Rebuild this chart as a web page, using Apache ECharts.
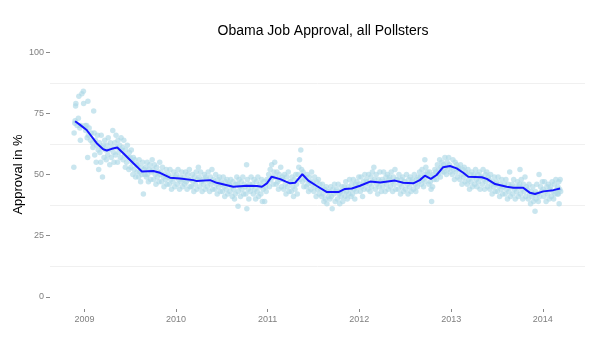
<!DOCTYPE html>
<html>
<head>
<meta charset="utf-8">
<script src="https://cdn.jsdelivr.net/npm/echarts@6/dist/echarts.min.js"></script>
<style>
html,body{margin:0;padding:0;background:#fff;}
#chart{width:604px;height:342px;}
</style>
</head>
<body>
<div id="chart"></div>
<script>
// Tick labels
var yTicks = [0, 25, 50, 75, 100];
var yMinorGrid = [12.5, 37.5, 62.5, 87.5];
var xTickDates = ['2009-01-01', '2010-01-01', '2011-01-01', '2012-01-01', '2013-01-01', '2014-01-01'];
var xRange = ['2008-08-17', '2014-06-18'];

// Individual poll results [date, approval %]
var polls = [
['2008-11-20',53],['2008-11-21',67],['2008-11-24',71],['2008-11-25',72],['2008-11-27',78],['2008-11-28',79],
['2008-12-03',70],['2008-12-08',73],['2008-12-10',82],['2008-12-14',69],['2008-12-16',64],['2008-12-18',70],['2008-12-22',83],['2008-12-28',84],['2008-12-29',79],
['2009-01-04',70],['2009-01-06',68],['2009-01-10',70],['2009-01-12',65],['2009-01-14',57],['2009-01-15',80],['2009-01-17',66],['2009-01-20',69],['2009-01-25',64],['2009-01-28',67],
['2009-02-02',63],['2009-02-04',61],['2009-02-07',76],['2009-02-09',67],['2009-02-11',58],['2009-02-14',64],['2009-02-17',55],['2009-02-19',62],['2009-02-22',66],['2009-02-25',60],['2009-02-27',52],
['2009-03-02',63],['2009-03-04',59],['2009-03-07',55],['2009-03-09',66],['2009-03-12',61],['2009-03-14',49],['2009-03-17',62],['2009-03-20',57],['2009-03-23',64],['2009-03-26',60],['2009-03-29',56],
['2009-04-01',62],['2009-04-04',58],['2009-04-06',65],['2009-04-09',60],['2009-04-12',54],['2009-04-15',63],['2009-04-18',57],['2009-04-21',61],['2009-04-24',68],['2009-04-27',59],['2009-04-29',55],
['2009-05-02',63],['2009-05-05',58],['2009-05-07',66],['2009-05-10',61],['2009-05-13',55],['2009-05-15',64],['2009-05-18',59],['2009-05-21',62],['2009-05-24',57],['2009-05-27',65],['2009-05-30',60],
['2009-06-02',61],['2009-06-04',56],['2009-06-07',64],['2009-06-10',58],['2009-06-13',53],['2009-06-15',60],['2009-06-18',55],['2009-06-21',62],['2009-06-24',57],['2009-06-27',52],['2009-06-29',59],
['2009-07-02',57],['2009-07-05',53],['2009-07-07',60],['2009-07-10',55],['2009-07-13',50],['2009-07-15',57],['2009-07-18',52],['2009-07-21',56],['2009-07-24',49],['2009-07-27',54],['2009-07-30',51],
['2009-08-02',54],['2009-08-05',49],['2009-08-07',56],['2009-08-10',51],['2009-08-13',47],['2009-08-15',53],['2009-08-18',50],['2009-08-21',55],['2009-08-24',42],['2009-08-27',52],['2009-08-30',50],
['2009-09-02',53],['2009-09-05',49],['2009-09-08',55],['2009-09-10',50],['2009-09-13',47],['2009-09-16',52],['2009-09-19',54],['2009-09-22',48],['2009-09-25',51],['2009-09-28',56],
['2009-10-01',52],['2009-10-04',48],['2009-10-07',54],['2009-10-10',50],['2009-10-13',46],['2009-10-16',53],['2009-10-19',49],['2009-10-22',51],['2009-10-25',47],['2009-10-28',55],['2009-10-31',50],
['2009-11-02',51],['2009-11-05',47],['2009-11-08',53],['2009-11-11',49],['2009-11-14',45],['2009-11-17',50],['2009-11-20',48],['2009-11-23',52],['2009-11-26',46],['2009-11-29',49],
['2009-12-02',50],['2009-12-05',46],['2009-12-08',52],['2009-12-11',48],['2009-12-14',44],['2009-12-17',49],['2009-12-20',47],['2009-12-23',51],['2009-12-27',45],['2009-12-30',49],
['2010-01-03',50],['2010-01-06',46],['2010-01-09',52],['2010-01-12',48],['2010-01-15',44],['2010-01-18',49],['2010-01-21',47],['2010-01-24',51],['2010-01-27',45],['2010-01-30',48],
['2010-02-02',49],['2010-02-05',46],['2010-02-08',51],['2010-02-11',47],['2010-02-14',44],['2010-02-17',50],['2010-02-20',48],['2010-02-23',52],['2010-02-26',45],
['2010-03-01',48],['2010-03-04',45],['2010-03-07',50],['2010-03-10',47],['2010-03-13',43],['2010-03-16',49],['2010-03-19',46],['2010-03-22',51],['2010-03-25',44],['2010-03-28',48],['2010-03-31',53],
['2010-04-03',49],['2010-04-06',45],['2010-04-09',51],['2010-04-12',47],['2010-04-15',43],['2010-04-18',48],['2010-04-21',46],['2010-04-24',50],['2010-04-27',44],['2010-04-30',49],
['2010-05-03',48],['2010-05-06',45],['2010-05-09',51],['2010-05-12',47],['2010-05-15',43],['2010-05-18',49],['2010-05-21',46],['2010-05-24',52],['2010-05-27',44],['2010-05-30',48],
['2010-06-02',47],['2010-06-05',44],['2010-06-08',50],['2010-06-11',46],['2010-06-14',42],['2010-06-17',48],['2010-06-20',45],['2010-06-23',49],['2010-06-26',43],['2010-06-29',47],
['2010-07-02',46],['2010-07-05',43],['2010-07-08',49],['2010-07-11',45],['2010-07-14',41],['2010-07-17',47],['2010-07-20',44],['2010-07-23',48],['2010-07-26',42],['2010-07-29',46],
['2010-08-01',46],['2010-08-04',43],['2010-08-07',48],['2010-08-10',45],['2010-08-13',41],['2010-08-16',47],['2010-08-19',44],['2010-08-22',40],['2010-08-25',42],['2010-08-28',46],['2010-08-31',49],
['2010-09-03',46],['2010-09-05',37],['2010-09-06',43],['2010-09-09',48],['2010-09-12',45],['2010-09-15',41],['2010-09-18',47],['2010-09-21',44],['2010-09-24',49],['2010-09-27',42],['2010-09-30',46],
['2010-10-03',45],['2010-10-06',42],['2010-10-09',54],['2010-10-10',36],['2010-10-12',48],['2010-10-15',44],['2010-10-18',40],['2010-10-21',46],['2010-10-24',43],['2010-10-27',49],['2010-10-30',45],
['2010-11-02',46],['2010-11-05',42],['2010-11-08',48],['2010-11-11',44],['2010-11-14',40],['2010-11-17',47],['2010-11-20',43],['2010-11-23',49],['2010-11-26',41],['2010-11-29',45],
['2010-12-02',46],['2010-12-05',42],['2010-12-08',48],['2010-12-11',39],['2010-12-14',44],['2010-12-17',47],['2010-12-20',39],['2010-12-23',45],['2010-12-26',43],['2010-12-29',48],
['2011-01-02',47],['2011-01-05',50],['2011-01-08',45],['2011-01-11',52],['2011-01-14',48],['2011-01-17',54],['2011-01-20',49],['2011-01-23',46],['2011-01-26',51],['2011-01-29',55],
['2011-02-01',49],['2011-02-04',46],['2011-02-07',51],['2011-02-10',47],['2011-02-13',44],['2011-02-16',50],['2011-02-19',48],['2011-02-22',53],['2011-02-25',45],['2011-02-28',49],
['2011-03-03',48],['2011-03-06',44],['2011-03-09',50],['2011-03-12',46],['2011-03-15',42],['2011-03-18',49],['2011-03-21',45],['2011-03-24',51],['2011-03-27',43],['2011-03-30',47],
['2011-04-02',47],['2011-04-05',43],['2011-04-08',49],['2011-04-11',45],['2011-04-14',41],['2011-04-17',48],['2011-04-20',44],['2011-04-23',50],['2011-04-26',46],['2011-04-29',42],
['2011-05-02',50],['2011-05-05',53],['2011-05-08',56],['2011-05-10',48],['2011-05-13',60],['2011-05-16',52],['2011-05-19',47],['2011-05-22',51],['2011-05-25',45],['2011-05-28',49],
['2011-06-01',48],['2011-06-04',45],['2011-06-07',50],['2011-06-10',46],['2011-06-13',43],['2011-06-16',49],['2011-06-19',47],['2011-06-22',44],['2011-06-25',51],['2011-06-28',46],
['2011-07-01',47],['2011-07-04',43],['2011-07-07',49],['2011-07-10',45],['2011-07-13',41],['2011-07-16',47],['2011-07-19',44],['2011-07-22',48],['2011-07-25',42],['2011-07-28',46],
['2011-08-01',44],['2011-08-04',41],['2011-08-07',46],['2011-08-10',42],['2011-08-13',39],['2011-08-16',44],['2011-08-19',40],['2011-08-22',45],['2011-08-25',38],['2011-08-28',43],['2011-08-31',41],
['2011-09-03',43],['2011-09-06',40],['2011-09-09',45],['2011-09-12',41],['2011-09-15',36],['2011-09-18',44],['2011-09-21',42],['2011-09-24',46],['2011-09-27',39],['2011-09-30',43],
['2011-10-03',44],['2011-10-06',40],['2011-10-09',46],['2011-10-12',42],['2011-10-15',38],['2011-10-18',43],['2011-10-21',41],['2011-10-24',45],['2011-10-27',39],['2011-10-30',43],
['2011-11-02',45],['2011-11-05',41],['2011-11-08',47],['2011-11-11',43],['2011-11-14',40],['2011-11-17',45],['2011-11-20',42],['2011-11-23',48],['2011-11-26',44],['2011-11-29',41],
['2011-12-02',46],['2011-12-05',42],['2011-12-08',48],['2011-12-11',44],['2011-12-14',40],['2011-12-17',46],['2011-12-20',43],['2011-12-23',47],['2011-12-27',45],['2011-12-30',49],
['2012-01-02',46],['2012-01-05',43],['2012-01-08',49],['2012-01-11',45],['2012-01-14',41],['2012-01-17',47],['2012-01-20',44],['2012-01-23',50],['2012-01-26',46],['2012-01-29',48],
['2012-02-01',47],['2012-02-04',44],['2012-02-07',50],['2012-02-10',46],['2012-02-13',43],['2012-02-16',49],['2012-02-19',45],['2012-02-22',51],['2012-02-25',47],['2012-02-28',53],
['2012-03-02',48],['2012-03-05',44],['2012-03-08',50],['2012-03-11',46],['2012-03-14',42],['2012-03-17',48],['2012-03-20',45],['2012-03-23',51],['2012-03-26',47],['2012-03-29',43],
['2012-04-01',48],['2012-04-04',45],['2012-04-07',51],['2012-04-10',47],['2012-04-13',43],['2012-04-16',49],['2012-04-19',46],['2012-04-22',50],['2012-04-25',44],['2012-04-28',48],
['2012-05-01',49],['2012-05-04',45],['2012-05-07',51],['2012-05-10',47],['2012-05-13',43],['2012-05-16',49],['2012-05-19',46],['2012-05-22',52],['2012-05-25',44],['2012-05-28',48],
['2012-06-01',48],['2012-06-04',44],['2012-06-07',50],['2012-06-10',46],['2012-06-13',42],['2012-06-16',48],['2012-06-19',45],['2012-06-22',49],['2012-06-25',43],['2012-06-28',47],
['2012-07-01',47],['2012-07-04',44],['2012-07-07',50],['2012-07-10',46],['2012-07-13',42],['2012-07-16',48],['2012-07-19',45],['2012-07-22',49],['2012-07-25',43],['2012-07-28',47],
['2012-08-01',48],['2012-08-04',44],['2012-08-07',50],['2012-08-10',46],['2012-08-13',43],['2012-08-16',48],['2012-08-19',45],['2012-08-22',49],['2012-08-25',47],['2012-08-28',51],
['2012-09-01',49],['2012-09-04',46],['2012-09-07',52],['2012-09-10',48],['2012-09-13',45],['2012-09-16',50],['2012-09-18',56],['2012-09-19',47],['2012-09-22',53],['2012-09-25',49],['2012-09-28',51],
['2012-10-01',50],['2012-10-04',46],['2012-10-07',51],['2012-10-10',47],['2012-10-13',44],['2012-10-15',39],['2012-10-16',49],['2012-10-19',45],['2012-10-22',50],['2012-10-25',48],['2012-10-28',52],
['2012-11-01',51],['2012-11-04',48],['2012-11-07',54],['2012-11-10',50],['2012-11-13',52],['2012-11-16',56],['2012-11-19',49],['2012-11-22',53],['2012-11-25',55],['2012-11-28',51],
['2012-12-01',54],['2012-12-04',51],['2012-12-07',57],['2012-12-10',53],['2012-12-13',50],['2012-12-16',55],['2012-12-19',52],['2012-12-22',57],['2012-12-25',54],['2012-12-28',51],
['2013-01-02',53],['2013-01-05',50],['2013-01-08',56],['2013-01-11',52],['2013-01-14',48],['2013-01-17',55],['2013-01-20',51],['2013-01-23',54],['2013-01-26',49],['2013-01-29',53],
['2013-02-01',52],['2013-02-04',48],['2013-02-07',54],['2013-02-10',50],['2013-02-13',46],['2013-02-16',52],['2013-02-19',49],['2013-02-22',53],['2013-02-25',47],['2013-02-28',51],
['2013-03-03',50],['2013-03-06',46],['2013-03-09',52],['2013-03-12',48],['2013-03-15',44],['2013-03-18',50],['2013-03-21',47],['2013-03-24',51],['2013-03-27',45],['2013-03-30',49],
['2013-04-02',50],['2013-04-05',46],['2013-04-08',52],['2013-04-11',48],['2013-04-14',45],['2013-04-17',50],['2013-04-20',47],['2013-04-23',51],['2013-04-26',44],['2013-04-29',49],
['2013-05-02',49],['2013-05-05',46],['2013-05-08',52],['2013-05-11',48],['2013-05-14',44],['2013-05-17',50],['2013-05-20',47],['2013-05-23',51],['2013-05-26',45],['2013-05-29',49],
['2013-06-01',48],['2013-06-04',44],['2013-06-07',50],['2013-06-10',46],['2013-06-13',42],['2013-06-16',47],['2013-06-19',45],['2013-06-22',49],['2013-06-25',43],['2013-06-28',46],
['2013-07-01',47],['2013-07-04',43],['2013-07-07',49],['2013-07-10',45],['2013-07-13',41],['2013-07-16',46],['2013-07-19',44],['2013-07-22',48],['2013-07-25',42],['2013-07-28',45],
['2013-08-01',46],['2013-08-04',42],['2013-08-07',48],['2013-08-10',44],['2013-08-13',40],['2013-08-16',46],['2013-08-19',43],['2013-08-22',51],['2013-08-25',41],['2013-08-28',45],
['2013-09-01',46],['2013-09-04',42],['2013-09-07',48],['2013-09-10',44],['2013-09-13',40],['2013-09-16',45],['2013-09-19',43],['2013-09-22',47],['2013-09-25',41],['2013-09-28',45],
['2013-10-01',46],['2013-10-02',52],['2013-10-04',42],['2013-10-07',48],['2013-10-10',44],['2013-10-13',40],['2013-10-16',46],['2013-10-19',43],['2013-10-22',49],['2013-10-25',41],['2013-10-28',45],
['2013-11-01',44],['2013-11-04',40],['2013-11-07',46],['2013-11-10',42],['2013-11-13',38],['2013-11-16',43],['2013-11-19',41],['2013-11-22',45],['2013-11-25',39],['2013-11-28',42],
['2013-12-01',35],['2013-12-02',43],['2013-12-05',40],['2013-12-08',46],['2013-12-11',42],['2013-12-14',39],['2013-12-17',50],['2013-12-20',41],['2013-12-23',45],['2013-12-27',43],['2013-12-30',47],
['2014-01-02',44],['2014-01-05',41],['2014-01-08',47],['2014-01-11',43],['2014-01-14',39],['2014-01-17',45],['2014-01-20',42],['2014-01-23',46],['2014-01-26',40],['2014-01-29',44],
['2014-02-01',45],['2014-02-04',41],['2014-02-07',47],['2014-02-10',43],['2014-02-13',40],['2014-02-16',46],['2014-02-19',42],['2014-02-22',48],['2014-02-25',44],['2014-02-28',42],
['2014-03-02',45],['2014-03-04',42],['2014-03-06',47],['2014-03-07',38],['2014-03-09',44],['2014-03-11',48],['2014-03-13',43]
];

// Smoothed trend and its band half-width
var smoothDates = ['2008-11-25','2008-12-15','2009-01-10','2009-02-19','2009-03-17','2009-03-31','2009-04-20','2009-05-12','2009-06-05','2009-07-15','2009-08-18','2009-10-03','2009-10-29','2009-12-08','2010-01-17','2010-03-11','2010-03-25','2010-05-17','2010-06-12','2010-08-17','2010-10-10','2010-11-19','2010-12-09','2010-12-29','2011-01-17','2011-02-20','2011-03-31','2011-04-20','2011-05-19','2011-06-12','2011-07-16','2011-08-25','2011-10-10','2011-11-05','2011-12-02','2012-01-04','2012-02-13','2012-03-24','2012-05-22','2012-06-24','2012-08-03','2012-08-29','2012-09-18','2012-10-12','2012-11-04','2012-11-30','2012-12-27','2013-01-23','2013-02-18','2013-03-10','2013-05-03','2013-05-23','2013-06-25','2013-08-10','2013-09-06','2013-10-15','2013-11-11','2013-12-01','2014-01-03','2014-02-12','2014-03-11'];
var smoothValues = [71.8,70.3,68.2,62.8,60.3,59.8,60.5,61.0,58.7,54.6,51.2,51.4,50.7,48.7,48.4,47.7,47.3,47.7,46.6,45.0,45.4,45.3,45.0,46.4,49.1,48.1,46.4,46.6,50.1,47.5,45.3,42.8,42.8,44.1,44.3,45.4,47.1,46.7,47.5,46.6,46.4,47.7,49.5,48.2,49.8,53.0,53.5,52.5,50.7,49.1,48.9,48.2,46.1,45.0,44.6,44.6,42.5,42.0,43.1,43.6,44.3];
var smoothSE = [1.9,1.2,0.9,0.8,0.8,0.8,0.8,0.8,0.8,0.8,0.8,0.8,0.8,0.8,0.8,0.8,0.8,0.8,0.8,0.8,0.8,0.8,0.8,0.8,0.8,0.8,0.8,0.8,0.8,0.8,0.8,0.8,0.8,0.8,0.8,0.8,0.8,0.8,0.8,0.8,0.8,0.8,0.8,0.8,0.8,0.8,0.8,0.8,0.8,0.8,0.8,0.8,0.8,0.8,0.8,0.8,0.8,0.8,0.9,1.1,1.6];

var FONT = '"Liberation Sans", Arial, Helvetica, sans-serif';
function ts(d) { return Date.parse(d + 'T00:00:00Z'); }

var pollData = polls.map(function (p) { return [ts(p[0]), p[1]]; });
var lineData = smoothDates.map(function (d, i) { return [ts(d), smoothValues[i]]; });
var lowData = smoothDates.map(function (d, i) { return [ts(d), smoothValues[i] - smoothSE[i]]; });
var widthData = smoothDates.map(function (d, i) { return [ts(d), 2 * smoothSE[i]]; });
var xTickValues = xTickDates.map(ts);

var chart = echarts.init(document.getElementById('chart'), null, { renderer: 'canvas' });
chart.setOption({
  animation: false,
  backgroundColor: '#ffffff',
  title: {
    text: 'Obama Job Approval, all Pollsters',
    left: 318,
    top: 19,
    textAlign: 'center',
    textStyle: { fontFamily: FONT, fontSize: 14, fontWeight: 'normal', color: '#000000' }
  },
  grid: { left: 50, right: 19, top: 40, bottom: 33, containLabel: false },
  xAxis: {
    type: 'value',
    min: ts(xRange[0]),
    max: ts(xRange[1]),
    axisLine: { show: false, onZero: false },
    splitLine: { show: false },
    axisTick: {
      show: true,
      customValues: xTickValues,
      length: 3,
      lineStyle: { color: '#8a8a8a', width: 1 }
    },
    axisLabel: {
      customValues: xTickValues,
      formatter: function (v) { return String(new Date(v).getUTCFullYear()); },
      margin: 6,
      fontFamily: FONT,
      fontSize: 9,
      color: '#7f7f7f'
    }
  },
  yAxis: {
    type: 'value',
    min: -5,
    max: 105,
    name: 'Approval in %',
    nameLocation: 'middle',
    nameRotate: 90,
    nameGap: 25,
    nameMoveOverlap: false,
    nameTextStyle: { fontFamily: FONT, fontSize: 13, color: '#000000' },
    axisLine: { show: false, onZero: false },
    splitLine: { show: false },
    axisTick: {
      show: true,
      customValues: yTicks,
      length: 4,
      lineStyle: { color: '#8a8a8a', width: 1 }
    },
    axisLabel: {
      customValues: yTicks,
      margin: 6,
      fontFamily: FONT,
      fontSize: 9,
      color: '#7f7f7f'
    }
  },
  series: [
    {
      type: 'scatter',
      data: pollData,
      symbol: 'circle',
      symbolSize: 5.5,
      silent: true,
      itemStyle: { color: '#add8e6', opacity: 0.65 },
      markLine: {
        silent: true,
        symbol: ['none', 'none'],
        label: { show: false },
        lineStyle: { color: '#f0f0f0', type: 'solid', width: 1 },
        data: yMinorGrid.map(function (v) { return { yAxis: v }; }),
        z: 0
      },
      z: 2
    },
    {
      type: 'line',
      data: lowData,
      stack: 'band',
      symbol: 'none',
      silent: true,
      lineStyle: { opacity: 0 },
      z: 3
    },
    {
      type: 'line',
      data: widthData,
      stack: 'band',
      symbol: 'none',
      silent: true,
      lineStyle: { opacity: 0 },
      areaStyle: { color: 'rgba(40,40,255,0.45)' },
      z: 3
    },
    {
      type: 'line',
      data: lineData,
      symbol: 'none',
      silent: true,
      lineStyle: { color: '#1414ff', width: 2 },
      z: 4
    }
  ]
});
</script>
</body>
</html>
